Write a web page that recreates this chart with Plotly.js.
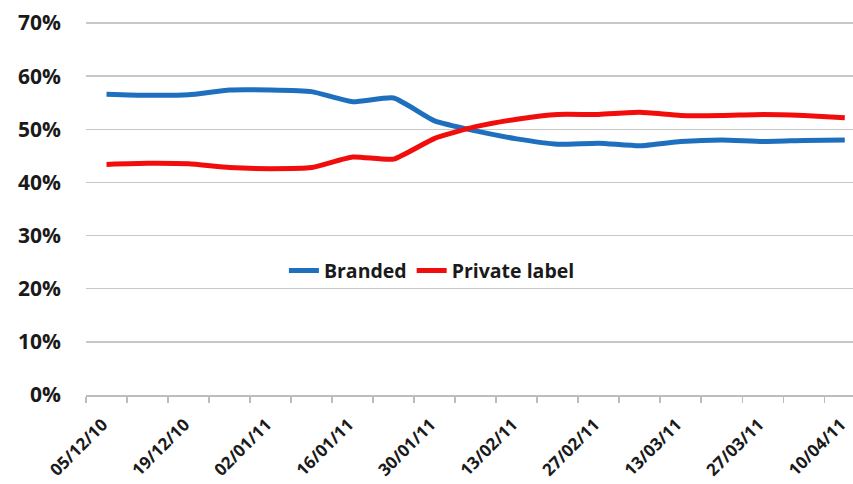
<!DOCTYPE html>
<html>
<head>
<meta charset="utf-8">
<script src="https://cdn.plot.ly/plotly-3.0.1.min.js"></script>
<style>html,body{margin:0;padding:0;overflow:hidden;background:#fff;}</style>
</head>
<body>
<div id="chart" style="width:853px;height:484px;"></div>
<script>
const weeks = ["05/12/10","12/12/10","19/12/10","26/12/10","02/01/11","09/01/11","16/01/11","23/01/11","30/01/11","06/02/11","13/02/11","20/02/11","27/02/11","06/03/11","13/03/11","20/03/11","27/03/11","03/04/11","10/04/11"];
const branded = [56.6,56.4,56.5,57.4,57.4,57.1,55.2,55.9,51.6,49.7,48.2,47.2,47.4,46.9,47.7,48.0,47.7,47.9,48.0];
const privateLabel = [43.4,43.6,43.5,42.8,42.6,42.8,44.8,44.4,48.3,50.5,51.9,52.8,52.8,53.2,52.6,52.6,52.8,52.6,52.2];
const seriesNames = ["Branded","Private label"];
const yTicks = [0,10,20,30,40,50,60,70];

const idx = weeks.map((w,i)=>i);
const labelIdx = idx.filter(i=>i%2===0);
const boundaries = weeks.map((w,i)=>i-0.5).concat([weeks.length-0.5]);

const traces = [
  {x: idx, y: branded, name: seriesNames[0], mode:'lines', type:'scatter',
   line:{color:'#1f6fbf', width:5, shape:'spline', smoothing:0.5}, hoverinfo:'skip'},
  {x: idx, y: privateLabel, name: seriesNames[1], mode:'lines', type:'scatter',
   line:{color:'#f20d0d', width:5, shape:'spline', smoothing:0.5}, hoverinfo:'skip'}
];

const layout = {
  width:853, height:484,
  margin:{l:86, r:0, t:22, b:89},
  paper_bgcolor:'#fff', plot_bgcolor:'#fff',
  font:{family:'"Open Sans", sans-serif', color:'#1a1a1a'},
  showlegend:true,
  legend:{orientation:'h', x:0.451, xanchor:'center', y:0.333, yanchor:'middle',
    bgcolor:'rgba(0,0,0,0)', font:{size:19.5, weight:700, color:'#1a1a1a'}},
  xaxis:{
    range:[-0.5, 18.2], showgrid:false, zeroline:false,
    showline:true, linecolor:'#bdbdbd', linewidth:2,
    tickmode:'array', tickvals: labelIdx, ticktext: labelIdx.map(i=>weeks[i]),
    ticks:'outside', ticklen:6, tickcolor:'rgba(0,0,0,0)',
    ticklabelstandoff:5, ticklabelshift:-4, ticklabeloverflow:'allow',
    tickangle:-45, tickfont:{size:17, weight:700, color:'#1a1a1a'},
    minor:{tickmode:'array', tickvals: boundaries, ticks:'outside', ticklen:6, tickcolor:'#bdbdbd', tickwidth:1.5, showgrid:false}
  },
  yaxis:{
    range:[0, 70.2], tickmode:'array', tickvals: yTicks, ticktext: yTicks.map(v=>v+'%'),
    showgrid:true, gridcolor:'#c8c8c8', gridwidth:1.5, zeroline:false, showline:false,
    ticks:'', ticklabelstandoff:24,
    tickfont:{size:21, weight:700, color:'#1a1a1a'}
  }
};

Plotly.newPlot('chart', traces, layout, {staticPlot:true, displayModeBar:false});
</script>
</body>
</html>
